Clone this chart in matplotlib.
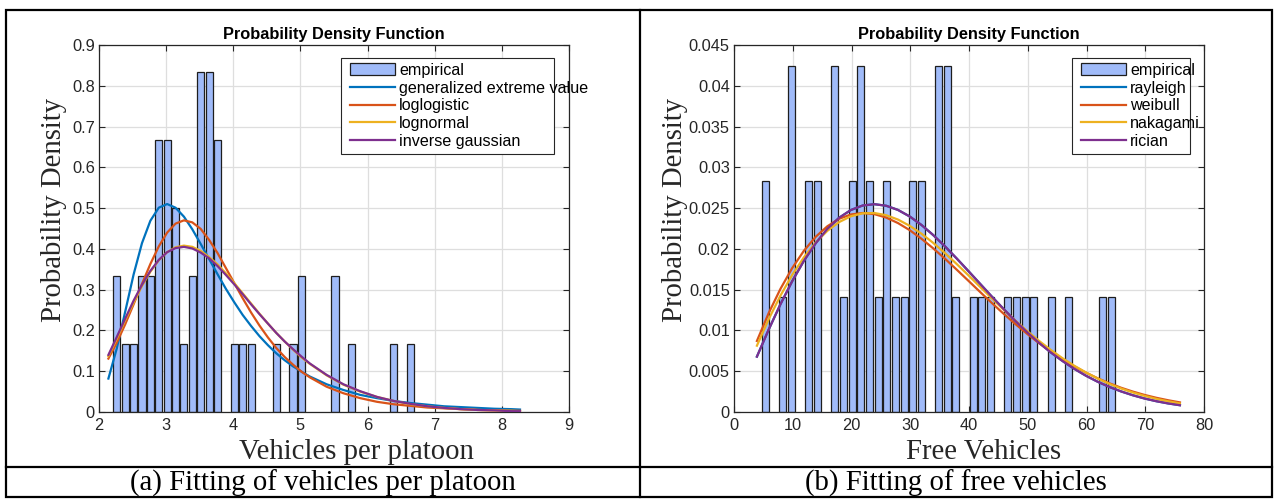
import matplotlib
matplotlib.use("Agg")
import matplotlib.pyplot as plt
from matplotlib.patches import Rectangle
from matplotlib.lines import Line2D
from matplotlib.ticker import FuncFormatter, MultipleLocator

# ---------------- data ----------------
# (a) vehicles per platoon: empirical histogram (bin centres, density)
platoon_centers = [2.265, 2.39, 2.515, 2.64, 2.765, 2.89, 3.015, 3.14, 3.265, 3.39, 3.515, 3.64,
                   3.765, 4.015, 4.14, 4.265, 4.64, 4.89, 5.015, 5.515, 5.765, 6.39, 6.64]
platoon_density = [0.333, 0.167, 0.167, 0.333, 0.333, 0.667, 0.667, 0.5, 0.167, 0.333, 0.833, 0.833,
                   0.667, 0.167, 0.167, 0.167, 0.167, 0.167, 0.333, 0.333, 0.167, 0.167, 0.167]

# fitted curves, sampled along x
platoon_x = [2.14, 2.265, 2.39, 2.515, 2.64, 2.765, 2.89, 3.015, 3.14, 3.265, 3.39, 3.515, 3.64,
             3.765, 3.89, 4.015, 4.14, 4.265, 4.39, 4.515, 4.64, 4.765, 4.89, 5.015, 5.14, 5.39,
             5.64, 5.89, 6.14, 6.39, 6.64, 6.89, 7.14, 7.39, 7.64, 7.89, 8.14, 8.27]
gev_pdf = [0.082, 0.156, 0.246, 0.337, 0.414, 0.469, 0.501, 0.510, 0.501, 0.479, 0.448, 0.412, 0.375,
           0.338, 0.302, 0.269, 0.238, 0.211, 0.186, 0.164, 0.144, 0.127, 0.112, 0.099, 0.087, 0.068,
           0.054, 0.042, 0.034, 0.027, 0.022, 0.018, 0.014, 0.012, 0.010, 0.008, 0.007, 0.006]
loglogistic_pdf = [0.131, 0.170, 0.215, 0.264, 0.314, 0.363, 0.406, 0.440, 0.462, 0.470, 0.465, 0.449,
                   0.422, 0.390, 0.353, 0.316, 0.279, 0.244, 0.212, 0.183, 0.157, 0.135, 0.116, 0.099,
                   0.085, 0.062, 0.046, 0.034, 0.025, 0.019, 0.015, 0.011, 0.009, 0.007, 0.005, 0.004,
                   0.003, 0.003]
lognormal_pdf = [0.137, 0.180, 0.225, 0.268, 0.309, 0.344, 0.372, 0.392, 0.404, 0.408, 0.405, 0.395,
                 0.380, 0.362, 0.340, 0.316, 0.291, 0.266, 0.241, 0.217, 0.194, 0.173, 0.153, 0.134,
                 0.118, 0.090, 0.067, 0.050, 0.037, 0.027, 0.019, 0.014, 0.010, 0.007, 0.005, 0.004,
                 0.003, 0.002]
invgauss_pdf = [0.140, 0.184, 0.229, 0.273, 0.312, 0.346, 0.373, 0.392, 0.402, 0.405, 0.401, 0.391,
                0.377, 0.358, 0.336, 0.313, 0.289, 0.264, 0.240, 0.217, 0.194, 0.173, 0.154, 0.136,
                0.119, 0.091, 0.068, 0.051, 0.037, 0.027, 0.020, 0.014, 0.010, 0.007, 0.005, 0.004,
                0.002, 0.002]

# (b) free vehicles: empirical histogram
free_centers = [5.39, 8.33, 9.81, 12.75, 14.22, 17.17, 18.64, 20.11, 21.58, 23.05, 24.53, 26.0,
                27.47, 28.94, 30.41, 31.89, 34.83, 36.30, 37.77, 40.72, 42.19, 43.66, 46.61, 48.08,
                49.55, 51.02, 53.97, 56.91, 62.80, 64.27]
free_density = [0.0283, 0.01415, 0.04245, 0.0283, 0.0283, 0.04245, 0.01415, 0.0283, 0.04245, 0.0283,
                0.01415, 0.0283, 0.01415, 0.01415, 0.0283, 0.0283, 0.04245, 0.04245, 0.01415, 0.01415,
                0.01415, 0.01415, 0.01415, 0.01415, 0.01415, 0.01415, 0.01415, 0.01415, 0.01415, 0.01415]

free_x = [3.9, 5.9, 7.9, 9.9, 11.9, 13.9, 15.9, 17.9, 19.9, 21.9, 23.9, 25.9, 27.9, 29.9, 31.9,
          33.9, 35.9, 37.9, 39.9, 41.9, 43.9, 45.9, 47.9, 49.9, 51.9, 53.9, 55.9, 57.9, 59.9, 61.9,
          63.9, 65.9, 67.9, 69.9, 71.9, 73.9, 75.9]
rayleigh_pdf = [0.00679, 0.01010, 0.01320, 0.01603, 0.01854, 0.02069, 0.02246, 0.02382, 0.02477,
                0.02532, 0.02548, 0.02529, 0.02478, 0.02398, 0.02294, 0.02170, 0.02032, 0.01883,
                0.01728, 0.01571, 0.01414, 0.01262, 0.01116, 0.00978, 0.00850, 0.00732, 0.00626,
                0.00530, 0.00445, 0.00371, 0.00307, 0.00252, 0.00205, 0.00165, 0.00132, 0.00105, 0.00083]
weibull_pdf = [0.00871, 0.01212, 0.01509, 0.01764, 0.01977, 0.02148, 0.02278, 0.02369, 0.02422,
               0.02440, 0.02426, 0.02384, 0.02317, 0.02230, 0.02125, 0.02007, 0.01880, 0.01746,
               0.01609, 0.01471, 0.01336, 0.01204, 0.01078, 0.00958, 0.00846, 0.00743, 0.00648,
               0.00561, 0.00483, 0.00413, 0.00352, 0.00297, 0.00250, 0.00209, 0.00174, 0.00144, 0.00118]
nakagami_pdf = [0.00813, 0.01138, 0.01426, 0.01680, 0.01897, 0.02078, 0.02222, 0.02329, 0.02400,
                0.02436, 0.02440, 0.02413, 0.02360, 0.02283, 0.02187, 0.02074, 0.01949, 0.01815,
                0.01676, 0.01534, 0.01392, 0.01254, 0.01120, 0.00993, 0.00873, 0.00762, 0.00660,
                0.00568, 0.00485, 0.00411, 0.00345, 0.00288, 0.00239, 0.00197, 0.00161, 0.00131, 0.00105]
rician_pdf = [0.00679, 0.01010, 0.01320, 0.01603, 0.01854, 0.02069, 0.02246, 0.02382, 0.02477,
              0.02532, 0.02548, 0.02529, 0.02478, 0.02398, 0.02294, 0.02170, 0.02032, 0.01883,
              0.01728, 0.01571, 0.01414, 0.01262, 0.01116, 0.00978, 0.00850, 0.00732, 0.00626,
              0.00530, 0.00445, 0.00371, 0.00307, 0.00252, 0.00205, 0.00165, 0.00132, 0.00105, 0.00083]

left_labels = ['empirical', 'generalized extreme value', 'loglogistic', 'lognormal', 'inverse gaussian']
right_labels = ['empirical', 'rayleigh', 'weibull', 'nakagami', 'rician']
title_text = 'Probability Density Function'
ylabel_text = 'Probability Density'
caption_a = '(a) Fitting of vehicles per platoon'
caption_b = '(b) Fitting of free vehicles'

# ---------------- figure ----------------
W, H = 1274, 499
fig = plt.figure(figsize=(W / 100, H / 100), dpi=100)
fig.patch.set_facecolor('white')
def fx(px): return px / W
def fy(py): return 1 - py / H

TXT = '#262626'
SANS = ['Liberation Sans', 'DejaVu Sans']
SERIF = ['Liberation Serif', 'DejaVu Serif']
SERIF_SIZE = 20.7
BAR_FACE = '#A0BBF9'
BAR_EDGE = '#1E1E1E'
COLORS = ['#0072BD', '#D95319', '#EDB120', '#7E2F8E']

axL = fig.add_axes([fx(99), fy(412), 470 / W, 367 / H])
axR = fig.add_axes([fx(734), fy(412), 470 / W, 367 / H])

def style(ax, xlim, xstep, ylim, ystep, xlabel, xlab_x, ylab_x):
    ax.set_xlim(*xlim); ax.set_ylim(*ylim)
    ax.xaxis.set_major_locator(MultipleLocator(xstep))
    ax.yaxis.set_major_locator(MultipleLocator(ystep))
    fmt = FuncFormatter(lambda v, p: f'{round(v, 6):g}')
    ax.xaxis.set_major_formatter(fmt); ax.yaxis.set_major_formatter(fmt)
    ax.grid(True, color='#DEDEDE', lw=0.9)
    ax.set_axisbelow(True)
    ax.tick_params(direction='in', length=4.5, width=0.8, top=True, right=True, colors=TXT,
                   labelsize=11.8, labelcolor=TXT)
    ax.tick_params(axis='x', pad=4.5)
    ax.tick_params(axis='y', pad=3)
    for t in ax.get_xticklabels() + ax.get_yticklabels():
        t.set_family(SANS)
    for s in ax.spines.values():
        s.set_color(TXT); s.set_linewidth(0.9)
    ax.set_title(title_text, fontweight='bold', fontsize=11.8, family=SANS, color='black', pad=4)
    ax.set_xlabel(xlabel, family=SERIF, fontsize=SERIF_SIZE, color=TXT)
    ax.set_ylabel(ylabel_text, family=SERIF, fontsize=SERIF_SIZE, color=TXT)
    ax.xaxis.set_label_coords(xlab_x, -0.074)
    ax.yaxis.set_label_coords(ylab_x, 0.55)

def legend(ax, handles, labels, box, hx):
    x0, y0, x1, y1 = box
    ax.add_patch(Rectangle((fx(x0), fy(y1)), (x1 - x0) / W, (y1 - y0) / H, transform=fig.transFigure,
                           facecolor='white', edgecolor=TXT, lw=0.8, zorder=4.5, clip_on=False))
    leg = ax.legend(handles, labels, loc='upper left', bbox_to_anchor=(fx(hx), fy(y0 + 5)),
                    bbox_transform=fig.transFigure, frameon=False,
                    handlelength=2.8, handletextpad=0.25, labelspacing=0.17, borderpad=0,
                    borderaxespad=0, handleheight=0.75, prop={'family': SANS, 'size': 11.6})
    for t in leg.get_texts():
        t.set_color('black')
    leg.set_zorder(5)

# (a)
b = axL.bar(platoon_centers, platoon_density, width=0.106, color=BAR_FACE, edgecolor=BAR_EDGE,
            linewidth=0.9, zorder=2)
hl = [b]
for y, c in zip([gev_pdf, loglogistic_pdf, lognormal_pdf, invgauss_pdf], COLORS):
    hl.append(axL.plot(platoon_x, y, color=c, lw=1.6, zorder=3)[0])
style(axL, (2, 9), 1, (0, 0.9), 0.1, 'Vehicles per platoon', 0.547, -0.068)
legend(axL, hl, left_labels, (341, 58, 554, 154), 350)

# (b)
b = axR.bar(free_centers, free_density, width=1.19, color=BAR_FACE, edgecolor=BAR_EDGE,
            linewidth=0.9, zorder=2)
hr = [b]
for y, c in zip([rayleigh_pdf, weibull_pdf, nakagami_pdf, rician_pdf], COLORS):
    hr.append(axR.plot(free_x, y, color=c, lw=1.6, zorder=3)[0])
style(axR, (0, 80), 10, (0, 0.045), 0.005, 'Free Vehicles', 0.531, -0.098)
legend(axR, hr, right_labels, (1072, 58, 1190, 154), 1081)

# table frame + captions
fig.add_artist(Rectangle((fx(5.5), fy(497)), (1271.5 - 5.5) / W, (497 - 10) / H, transform=fig.transFigure,
                         fill=False, edgecolor='black', lw=1.6))
fig.add_artist(Line2D([fx(640), fx(640)], [fy(10), fy(497)], color='black', lw=1.6))
fig.add_artist(Line2D([fx(5.5), fx(1271.5)], [fy(466.5), fy(466.5)], color='black', lw=1.6))
fig.text(fx(322.5), fy(490.5), caption_a, ha='center', va='baseline', family=SERIF, fontsize=SERIF_SIZE, color='black')
fig.text(fx(956), fy(490.5), caption_b, ha='center', va='baseline', family=SERIF, fontsize=SERIF_SIZE, color='black')

fig.savefig('out.png', dpi=100, facecolor='white')
